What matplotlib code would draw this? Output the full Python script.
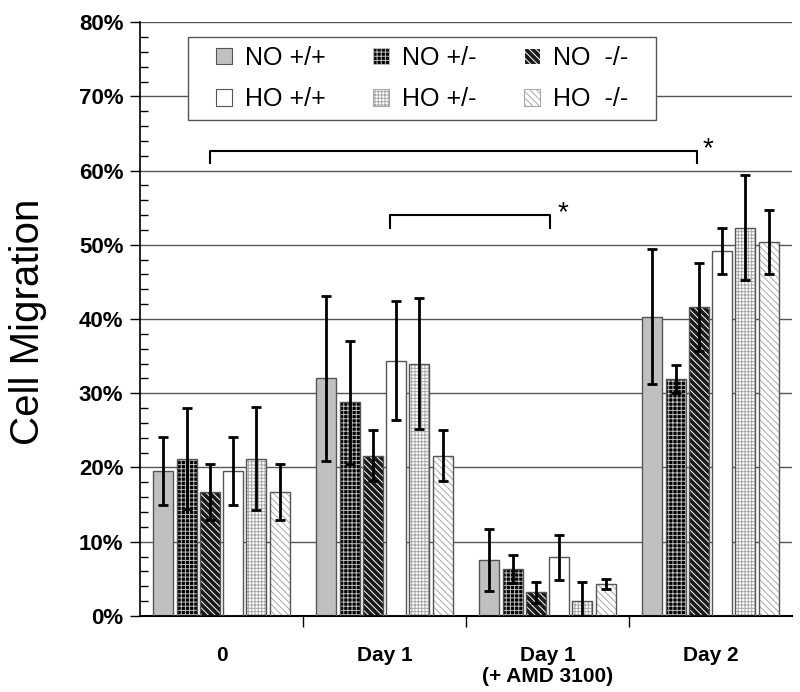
import matplotlib.pyplot as plt
import numpy as np

plt.rcParams['font.family'] = ['Liberation Sans', 'DejaVu Sans']
plt.rcParams['hatch.linewidth'] = 0.7

groups = ['0', 'Day 1', 'Day 1\n(+ AMD 3100)', 'Day 2']
series = ['NO +/+', 'NO +/-', 'NO  -/-', 'HO +/+', 'HO +/-', 'HO  -/-']

no_pp = [19.5, 32.0, 7.5, 40.3]
no_pm = [21.2, 28.8, 6.3, 31.9]
no_mm = [16.7, 21.6, 3.2, 41.6]
ho_pp = [19.5, 34.4, 7.9, 49.1]
ho_pm = [21.2, 34.0, 2.0, 52.3]
ho_mm = [16.7, 21.6, 4.3, 50.4]

no_pp_err = [4.6, 11.1, 4.2, 9.1]
no_pm_err = [6.8, 8.3, 1.9, 1.9]
no_mm_err = [3.8, 3.4, 1.4, 5.9]
ho_pp_err = [4.6, 8.0, 3.0, 3.1]
ho_pm_err = [6.9, 8.8, 2.5, 7.1]
ho_mm_err = [3.8, 3.4, 0.7, 4.3]

values = [no_pp, no_pm, no_mm, ho_pp, ho_pm, ho_mm]
errors = [no_pp_err, no_pm_err, no_mm_err, ho_pp_err, ho_pm_err, ho_mm_err]

# face colour, hatch, hatch colour
styles = [
    ('#c0c0c0', None, None),
    ('#000000', '++++', '#bbbbbb'),
    ('#1a1a1a', '\\\\\\\\\\', '#ffffff'),
    ('#ffffff', None, None),
    ('#ffffff', '+++++', '#a8a8a8'),
    ('#ffffff', '\\\\\\\\\\', '#a8a8a8'),
]

fig = plt.figure(figsize=(8, 6.92), dpi=100)
ax = fig.add_axes([0.175, 0.110, 0.815, 0.858])

x = np.arange(len(groups))
slot = 0.143
width = 0.123
handles = []
for k, (vals, errs) in enumerate(zip(values, errors)):
    fc, hatch, hc = styles[k]
    pos = x + (k - 2.5) * slot
    if hatch:
        ax.bar(pos, vals, width, color=fc, edgecolor=hc, hatch=hatch, lw=0, zorder=2)
    else:
        ax.bar(pos, vals, width, color=fc, lw=0, zorder=2)
    ax.bar(pos, vals, width, fill=False, edgecolor='#555555', lw=1.0, zorder=3)
    ax.errorbar(pos, vals, yerr=errs, fmt='none', ecolor='black', elinewidth=2,
                capsize=3.5, capthick=2, zorder=4)
    h = plt.Rectangle((0, 0), 1, 1, facecolor=fc, edgecolor='#555555', lw=0.8,
                      hatch=hatch)
    if hatch:
        h.set_edgecolor(hc)
    handles.append(h)

# significance brackets
def bracket(x0, x1, y, drop, star_dx):
    ax.plot([x0, x0, x1, x1], [y - drop, y, y, y - drop], color='black', lw=1.5, zorder=5)
    ax.text(x1 + star_dx, y + 0.2, '*', fontsize=20, ha='center', va='center')

bracket(-0.07, 2.917, 62.7, 1.7, 0.07)
bracket(1.034, 2.015, 54.0, 1.7, 0.08)

ax.set_xlim(-0.5, 3.5)
ax.set_ylim(0, 80)
ax.set_yticks(np.arange(0, 81, 10))
ax.set_yticklabels(['%d%%' % v for v in range(0, 81, 10)], fontsize=16, fontweight='bold')
ax.set_yticks(np.arange(0, 81, 2), minor=True)
ax.tick_params(axis='y', which='major', direction='out', length=7, width=1, pad=5)
ax.tick_params(axis='y', which='minor', direction='in', length=6, width=1)
ax.grid(axis='y', which='major', color='#555555', lw=1, zorder=0)
ax.set_axisbelow(True)

ax.set_xticks(x)
ax.set_xticklabels(groups, fontsize=15, fontweight='bold', linespacing=1.1)
ax.set_xticks([0.5, 1.5, 2.5], minor=True)
ax.tick_params(axis='x', which='major', length=0, pad=22)
ax.tick_params(axis='x', which='minor', direction='out', length=8, width=1)

ax.spines['top'].set_visible(False)
ax.spines['right'].set_visible(False)
ax.spines['left'].set_linewidth(1.2)
ax.spines['bottom'].set_linewidth(1.5)

ax.set_ylabel('Cell Migration', fontsize=29)
ax.yaxis.set_label_coords(-0.143, 0.495)

# legend box drawn by hand so the padding matches
box = plt.Rectangle((0.0736, 0.835), 0.7174, 0.140, transform=ax.transAxes,
                    facecolor='white', edgecolor='#555555', lw=1, zorder=9)
ax.add_patch(box)
order = [0, 3, 1, 4, 2, 5]
leg = ax.legend([handles[i] for i in order], [series[i] for i in order], ncol=3,
                loc='center', bbox_to_anchor=(0.4325, 0.905), fontsize=18,
                frameon=False, handlelength=0.65, handleheight=0.65,
                handletextpad=0.5, columnspacing=1.9, borderpad=0,
                labelspacing=0.7)
leg.set_zorder(10)

fig.savefig('out.png', dpi=100)
